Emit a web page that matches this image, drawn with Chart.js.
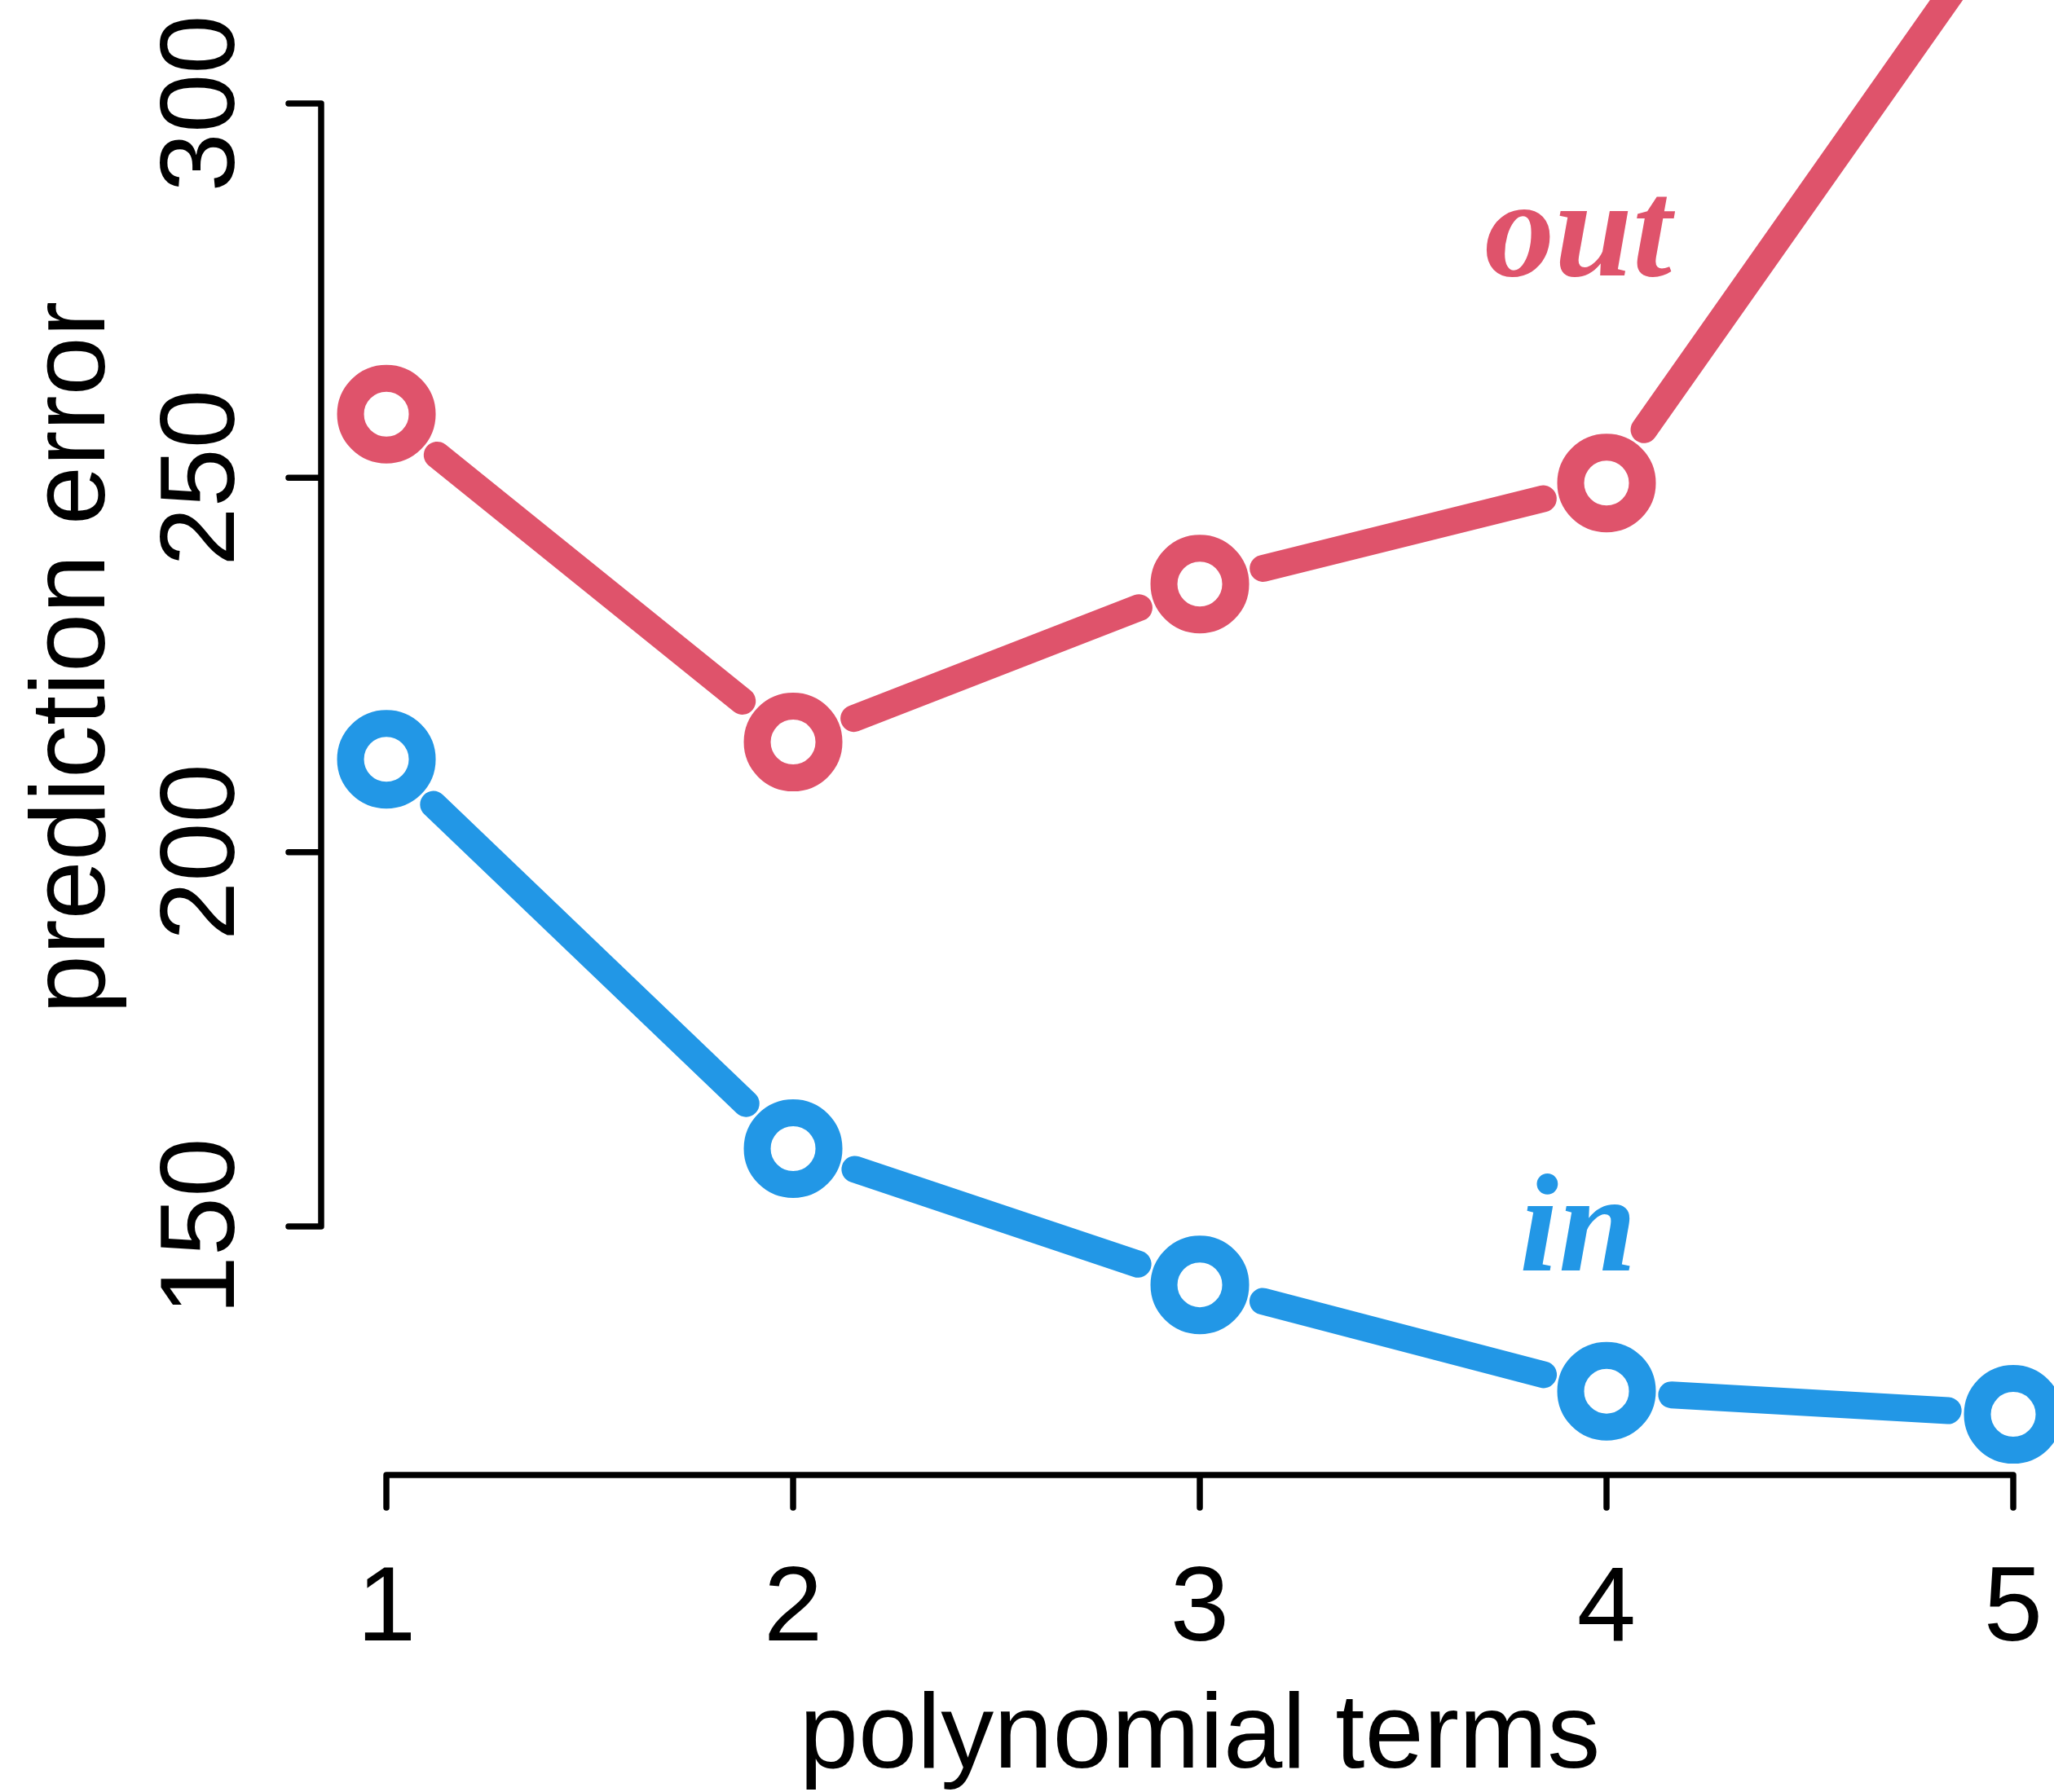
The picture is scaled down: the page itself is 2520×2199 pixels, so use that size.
<!DOCTYPE html>
<html>
<head>
<meta charset="utf-8">
<title>prediction error</title>
<script src="https://cdn.jsdelivr.net/npm/chart.js@4.4.1/dist/chart.umd.min.js"></script>
<style>
  html, body { margin: 0; padding: 0; background: #fff; }
  #errorChart { display: block; width: 2520px; height: 2199px; }
</style>
</head>
<body>
<canvas id="errorChart" width="2520" height="2199"></canvas>
<script>
// data
const terms = [1, 2, 3, 4, 5];
const outError = [258.5, 214.7, 235.8, 249.3, 326.5];
const inError = [212.4, 160.4, 142.2, 128.0, 124.9];
const xTicks = [1, 2, 3, 4, 5];
const yTicks = [150, 200, 250, 300];

const red = '#DF536B';
const blue = '#2297E6';
const lwd = 33;      // line / ring thickness
const gap = 80;      // distance from point centre to end of a segment
const axisFont = '130px "Liberation Sans", Arial, Helvetica, sans-serif';
const labelFont = 'italic bold 172px "Liberation Serif", "Times New Roman", serif';

const toPoints = (vals) => terms.map((t, i) => ({ x: t, y: vals[i] }));

// R style "b" lines: segments that stop short of each point
const gappedLines = {
    id: 'gappedLines',
    beforeDatasetsDraw(chart) {
        const ctx = chart.ctx;
        chart.data.datasets.forEach((ds, di) => {
            const pts = chart.getDatasetMeta(di).data;
            ctx.save();
            ctx.strokeStyle = ds.borderColor;
            ctx.lineWidth = lwd;
            ctx.lineCap = 'round';
            for (let i = 0; i < pts.length - 1; i++) {
                const a = pts[i], b = pts[i + 1];
                const dx = b.x - a.x, dy = b.y - a.y;
                const d = Math.hypot(dx, dy);
                if (d <= 2 * gap) continue;
                const ux = dx / d, uy = dy / d;
                ctx.beginPath();
                ctx.moveTo(a.x + ux * gap, a.y + uy * gap);
                ctx.lineTo(b.x - ux * gap, b.y - uy * gap);
                ctx.stroke();
            }
            ctx.restore();
        });
    }
};

// axes drawn the way base R does: offset, only spanning the tick range
const rAxes = {
    id: 'rAxes',
    afterDatasetsDraw(chart) {
        const ctx = chart.ctx;
        const xs = chart.scales.x, ys = chart.scales.y;
        const axisY = 1810, axisX = 394, tickLen = 40;
        ctx.save();
        ctx.strokeStyle = '#000';
        ctx.fillStyle = '#000';
        ctx.lineWidth = 7.5;
        ctx.lineCap = 'round';

        // x axis
        const x0 = xs.getPixelForValue(xTicks[0]);
        const x1 = xs.getPixelForValue(xTicks[xTicks.length - 1]);
        ctx.beginPath();
        ctx.moveTo(x0, axisY);
        ctx.lineTo(x1, axisY);
        xTicks.forEach(t => {
            const px = xs.getPixelForValue(t);
            ctx.moveTo(px, axisY);
            ctx.lineTo(px, axisY + tickLen);
        });
        ctx.stroke();
        ctx.font = axisFont;
        ctx.textAlign = 'center';
        ctx.textBaseline = 'alphabetic';
        xTicks.forEach(t => ctx.fillText(String(t), xs.getPixelForValue(t), 2013));
        ctx.fillText('polynomial terms', (x0 + x1) / 2, 2169);

        // y axis
        const y0 = ys.getPixelForValue(yTicks[0]);
        const y1 = ys.getPixelForValue(yTicks[yTicks.length - 1]);
        ctx.beginPath();
        ctx.moveTo(axisX, y0);
        ctx.lineTo(axisX, y1);
        yTicks.forEach(t => {
            const py = ys.getPixelForValue(t);
            ctx.moveTo(axisX, py);
            ctx.lineTo(axisX - tickLen, py);
        });
        ctx.stroke();
        yTicks.forEach(t => {
            ctx.save();
            ctx.translate(287, ys.getPixelForValue(t));
            ctx.rotate(-Math.PI / 2);
            ctx.fillText(String(t), 0, 0);
            ctx.restore();
        });
        ctx.save();
        ctx.translate(128, 807);
        ctx.rotate(-Math.PI / 2);
        ctx.fillText('prediction error', 0, 0);
        ctx.restore();

        // series labels
        ctx.font = labelFont;
        ctx.fillStyle = red;
        ctx.fillText('out', xs.getPixelForValue(3.93), ys.getPixelForValue(277.0));
        ctx.fillStyle = blue;
        ctx.fillText('in', xs.getPixelForValue(3.93), ys.getPixelForValue(144.1));
        ctx.restore();
    }
};

const ringStyle = (color) => ({
    showLine: false,
    borderColor: color,
    pointBorderColor: color,
    pointBackgroundColor: '#fff',
    pointRadius: 44,
    pointBorderWidth: lwd,
    pointHoverRadius: 44
});

const ctx = document.getElementById('errorChart').getContext('2d');
const myChart = new Chart(ctx, {
    type: 'line',
    data: {
        datasets: [
            { label: 'out', data: toPoints(outError), ...ringStyle(red) },
            { label: 'in', data: toPoints(inError), ...ringStyle(blue) }
        ]
    },
    options: {
        responsive: false,
        devicePixelRatio: 1,
        animation: false,
        events: [],
        layout: { padding: 0, autoPadding: false },
        plugins: { legend: { display: false }, tooltip: { enabled: false } },
        scales: {
            x: { type: 'linear', display: false, min: 0.05, max: 5.1002 },
            y: { type: 'linear', display: false, min: 74.46, max: 313.82 }
        }
    },
    plugins: [gappedLines, rAxes]
});
</script>
</body>
</html>
